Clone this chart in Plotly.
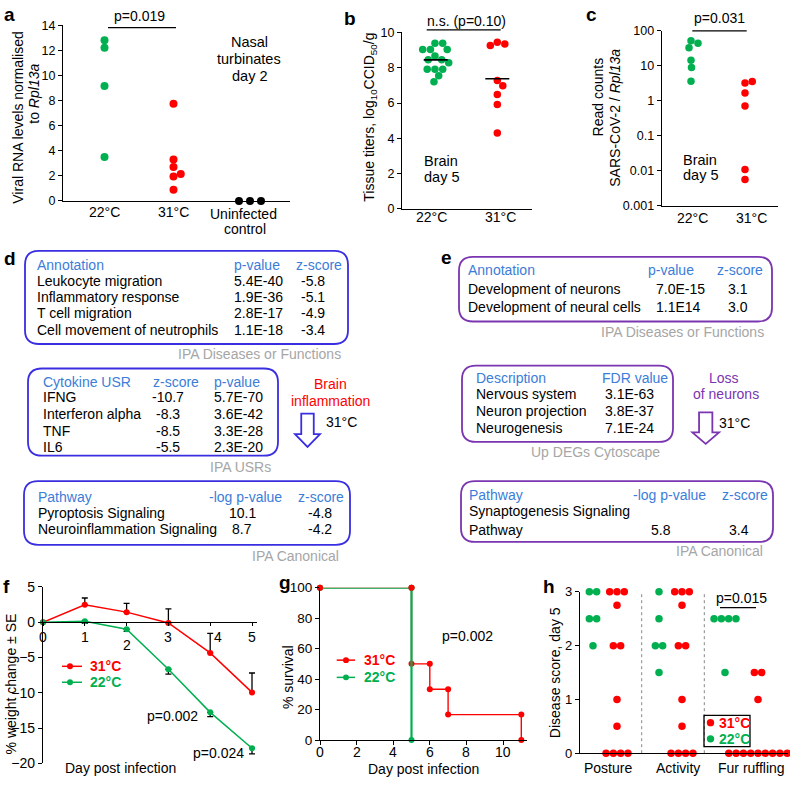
import math
from collections import Counter
import plotly.graph_objects as go

W, H = 790, 785
FONT = "Liberation Sans, Arial, sans-serif"
GREEN = "#00B050"
RED = "#FF0000"
BLACK = "#000000"
HEAD = "#3B7DD8"
DBOX = "#3A2FE0"
EBOX = "#7A35B0"
GREY = "#A6A6A6"

# ---------------- data ----------------
a_categories = ["22°C", "31°C", "Uninfected", "control"]
a_22 = [12.8, 12.2, 9.15, 3.5]
a_31 = [7.75, 3.3, 2.7, 1.95, 2.15, 0.9]
a_uninf = [0, 0, 0]

b_categories = ["22°C", "31°C"]
b_22 = [9.39, 9.39, 9.04, 9.04, 9.04, 8.67, 8.46, 8.46, 8.28, 7.91, 7.91, 7.91, 7.54, 7.20]
b_31 = [9.44, 9.35, 9.26, 7.28, 6.98, 6.48, 5.91, 4.30]

c_categories = ["22°C", "31°C"]
c_22 = [52, 44, 33, 14.4, 9.0, 3.6]
c_31 = [3.2, 3.56, 1.67, 0.71, 0.0107, 0.0056]
c_ticks = [0.001, 0.01, 0.1, 1, 10, 100]
c_ticktext = ["0.001", "0.01", "0.1", "1", "10", "100"]

f_days = [0, 1, 2, 3, 4, 5]
f_31 = [0, 2.46, 1.43, -0.1, -4.35, -9.95]
f_31_se = [None, 0.97, 1.25, 2.0, 2.78, 2.75]
f_22 = [0, 0.14, -1.0, -6.67, -12.78, -17.87]
f_22_se = [None, 0.3, 0.3, 0.7, 0.6, 0.8]

g_31_days = [0, 5, 5, 6, 6, 7, 7, 11, 11]
g_31_surv = [100, 100, 50, 50, 33.3, 33.3, 16.7, 16.7, 0]
g_22_days = [0, 5, 5]
g_22_surv = [100, 100, 0]
g_xticks = [0, 2, 4, 6, 8, 10]

h_categories = ["Posture", "Activity", "Fur ruffling"]
h_22 = [[3, 3, 2.5, 2.5, 2],
        [3, 2.5, 2, 2, 1.5],
        [2.5, 2.5, 2.5, 2.5, 1.5]]
h_31 = [[3, 3, 3, 2.75, 2, 2, 1, 0.5, 0, 0, 0, 0],
        [3, 3, 3, 2.75, 2, 2, 1, 0.5, 0, 0, 0, 0],
        [1.5, 1.5, 1, 0, 0, 0, 0, 0, 0, 0, 0, 0]]

d_tables = [
    dict(header=["Annotation", "p-value", "z-score"],
         rows=[["Leukocyte migration", "5.4E-40", "-5.8"],
               ["Inflammatory response", "1.9E-36", "-5.1"],
               ["T cell migration", "2.8E-17", "-4.9"],
               ["Cell movement of neutrophils", "1.1E-18", "-3.4"]],
         footer="IPA Diseases or Functions"),
    dict(header=["Cytokine USR", "z-score", "p-value"],
         rows=[["IFNG", "-10.7", "5.7E-70"],
               ["Interferon alpha", "-8.3", "3.6E-42"],
               ["TNF", "-8.5", "3.3E-28"],
               ["IL6", "-5.5", "2.3E-20"]],
         footer="IPA USRs"),
    dict(header=["Pathway", "-log p-value", "z-score"],
         rows=[["Pyroptosis Signaling", "10.1", "-4.8"],
               ["Neuroinflammation Signaling", "8.7", "-4.2"]],
         footer="IPA Canonical"),
]
e_tables = [
    dict(header=["Annotation", "p-value", "z-score"],
         rows=[["Development of neurons", "7.0E-15", "3.1"],
               ["Development of neural cells", "1.1E14", "3.0"]],
         footer="IPA Diseases or Functions"),
    dict(header=["Description", "FDR value"],
         rows=[["Nervous system", "3.1E-63"],
               ["Neuron projection", "3.8E-37"],
               ["Neurogenesis", "7.1E-24"]],
         footer="Up DEGs Cytoscape"),
    dict(header=["Pathway", "-log p-value", "z-score"],
         rows=[["Synaptogenesis Signaling", "", ""],
               ["Pathway", "5.8", "3.4"]],
         footer="IPA Canonical"),
]

# ---------------- layout helpers (pixel -> paper) ----------------
def X(px):
    return px / W


def Y(py):
    return 1 - py / H


def swarm(ypx, d, step=0.25, recenter=False):
    placed, out = [], []
    for y in ypx:
        k = 0
        while True:
            cands = [0.0] if k == 0 else [k * step, -k * step]
            found = None
            for c in cands:
                if all((c - px) ** 2 + (y - py) ** 2 >= d * d - 1e-9 for px, py in placed):
                    found = c
                    break
            if found is not None:
                break
            k += 1
        placed.append((found, y))
        out.append(found)
    if recenter:
        m = (max(out) + min(out)) / 2
        out = [o - m for o in out]
    return out


def grouped(vals, spacing):
    counts = Counter(vals)
    seen = {}
    out = []
    for v in vals:
        i = seen.get(v, 0)
        seen[v] = i + 1
        out.append((i - (counts[v] - 1) / 2) * spacing)
    return out


annotations = []
shapes = []


def T(x, y, text, size=14, color=BLACK, xa="center", ya="middle", angle=0, bold=False):
    if bold:
        text = "<b>" + text + "</b>"
    annotations.append(dict(x=X(x), y=Y(y), xref="paper", yref="paper", text=text,
                            showarrow=False, xanchor=xa, yanchor=ya, textangle=angle,
                            font=dict(size=size, color=color, family=FONT)))


def line(x0, y0, x1, y1, color=BLACK, width=1.3, dash="solid"):
    shapes.append(dict(type="line", xref="paper", yref="paper", x0=X(x0), y0=Y(y0),
                       x1=X(x1), y1=Y(y1), line=dict(color=color, width=width, dash=dash)))


def dot(cx, cy, r, color):
    shapes.append(dict(type="circle", xref="paper", yref="paper", x0=X(cx - r), x1=X(cx + r),
                       y0=Y(cy + r), y1=Y(cy - r), fillcolor=color, line=dict(width=0)))


def rrect(x0, y0, x1, y1, r, color, width=1.8):
    p = (f"M {X(x0 + r)},{Y(y0)} L {X(x1 - r)},{Y(y0)} Q {X(x1)},{Y(y0)} {X(x1)},{Y(y0 + r)} "
         f"L {X(x1)},{Y(y1 - r)} Q {X(x1)},{Y(y1)} {X(x1 - r)},{Y(y1)} "
         f"L {X(x0 + r)},{Y(y1)} Q {X(x0)},{Y(y1)} {X(x0)},{Y(y1 - r)} "
         f"L {X(x0)},{Y(y0 + r)} Q {X(x0)},{Y(y0)} {X(x0 + r)},{Y(y0)} Z")
    shapes.append(dict(type="path", xref="paper", yref="paper", path=p,
                       line=dict(color=color, width=width)))


def down_arrow(cx, top, base, tip, sw, hw, color):
    pts_ = [(cx - sw / 2, top), (cx + sw / 2, top), (cx + sw / 2, base), (cx + hw / 2, base),
            (cx, tip), (cx - hw / 2, base), (cx - sw / 2, base)]
    p = "M " + " L ".join(f"{X(x)},{Y(y)}" for x, y in pts_) + " Z"
    shapes.append(dict(type="path", xref="paper", yref="paper", path=p,
                       line=dict(color=color, width=1.8)))


def ax(domain, rng, **kw):
    d = dict(domain=domain, range=rng, showline=True, linecolor=BLACK, linewidth=1.2,
             ticks="outside", ticklen=4, tickwidth=1.2, tickcolor=BLACK, showgrid=False,
             zeroline=False, tickfont=dict(size=12.5, color=BLACK, family=FONT), fixedrange=True)
    d.update(kw)
    return d


fig = go.Figure()


def pts(xs, ys, color, size, xa, ya, mode="markers", **kw):
    fig.add_trace(go.Scatter(x=xs, y=ys, mode=mode, xaxis=xa, yaxis=ya, cliponaxis=False,
                             marker=dict(color=color, size=size, line=dict(width=0)),
                             hoverinfo="skip", **kw))


DOT = 7.6

# ---------------- panel a ----------------
A_TOP, A_BOT = 17.5, 197
a_scale = (A_BOT - A_TOP) / 14
a_centers = [104.5, 173.5, 250]
for vals, cx, col in [(a_22, a_centers[0], GREEN), (a_31, a_centers[1], RED)]:
    off = swarm([v * a_scale for v in vals], DOT)
    pts([cx + o for o in off], vals, col, 8, "x", "y")
off = grouped(a_uninf, 11)
pts([a_centers[2] + o for o in off], a_uninf, BLACK, 8, "x", "y")

# ---------------- panel b ----------------
B_TOP, B_BOT = 25, 205
b_scale = (B_BOT - B_TOP) / 10
b_centers = [435.7, 497.3]
for vals, cx, col, rc in [(b_22, b_centers[0], GREEN, True), (b_31, b_centers[1], RED, False)]:
    off = swarm([v * b_scale for v in vals], 7.6, recenter=rc)
    pts([cx + o for o in off], vals, col, 7.5, "x2", "y2")
    m = sum(vals) / len(vals)
    pts([cx - 12, cx + 12], [m, m], BLACK, 1, "x2", "y2", mode="lines",
        line=dict(color=BLACK, width=1.6))

# ---------------- panel c ----------------
C_TOP, C_BOT = 23.3, 201.7
c_scale = (C_BOT - C_TOP) / 5
c_centers = [691, 745]
for vals, cx, col in [(c_22, c_centers[0], GREEN), (c_31, c_centers[1], RED)]:
    off = swarm([math.log10(v) * c_scale for v in vals], 7.3)
    pts([cx + o for o in off], vals, col, 7.5, "x3", "y3")

# ---------------- panel f ----------------
F_X0, F_PX_PER_DAY = 43, 41.8
fig.add_trace(go.Scatter(x=f_days, y=f_31, mode="lines+markers", xaxis="x4", yaxis="y4",
                         cliponaxis=False, line=dict(color=RED, width=1.5),
                         marker=dict(color=RED, size=6),
                         error_y=dict(type="data", symmetric=False, array=f_31_se,
                                      arrayminus=[0 if s is not None else None for s in f_31_se],
                                      color=BLACK, thickness=1.3, width=3)))
fig.add_trace(go.Scatter(x=f_days, y=f_22, mode="lines+markers", xaxis="x4", yaxis="y4",
                         cliponaxis=False, line=dict(color=GREEN, width=1.5),
                         marker=dict(color=GREEN, size=6),
                         error_y=dict(type="data", symmetric=False, arrayminus=f_22_se,
                                      array=[0 if s is not None else None for s in f_22_se],
                                      color=BLACK, thickness=1.3, width=3)))

# ---------------- panel g ----------------
G_X0, G_PX_PER_DAY = 320, 18.3
fig.add_trace(go.Scatter(x=g_31_days, y=g_31_surv, mode="lines+markers", xaxis="x5", yaxis="y5",
                         cliponaxis=False, line=dict(color=RED, width=1.4),
                         marker=dict(color=RED, size=6)))
fig.add_trace(go.Scatter(x=g_22_days, y=g_22_surv, mode="lines+markers", xaxis="x5", yaxis="y5",
                         cliponaxis=False, line=dict(color=GREEN, width=2.2),
                         marker=dict(color=GREEN, size=6)))
top_pts = [(d, s) for d, s in zip(g_31_days, g_31_surv) if s == 100]
pts([d for d, s in top_pts], [s for d, s in top_pts], RED, 6, "x5", "y5")

# ---------------- panel h ----------------
h_green_centers = [593, 659, 725]
h_red_centers = [617, 682, 758]
for i in range(3):
    for vals, cx, col in [(h_22[i], h_green_centers[i], GREEN), (h_31[i], h_red_centers[i], RED)]:
        off = grouped(vals, 7.3)
        pts([cx + o for o in off], vals, col, 7.5, "x6", "y6")

for xd in [641.7, 704.3]:
    shapes.append(dict(type="line", xref="x6", yref="y6", x0=xd, x1=xd, y0=0, y1=3,
                       line=dict(color="#888888", width=1, dash="dot")))

# ---------------- axes ----------------
layout_axes = dict(
    xaxis=ax([X(63), X(290)], [63, 290], anchor="y", ticks="", showticklabels=False),
    yaxis=ax([Y(A_BOT), Y(A_TOP)], [0, 14], anchor="x", tickvals=list(range(0, 15, 2))),
    xaxis2=ax([X(402), X(532)], [402, 532], anchor="y2", ticks="", showticklabels=False),
    yaxis2=ax([Y(B_BOT), Y(B_TOP)], [0, 10], anchor="x2", tickvals=list(range(0, 11, 2))),
    xaxis3=ax([X(661.7), X(778)], [661.7, 778], anchor="y3", ticks="", showticklabels=False),
    yaxis3=ax([Y(C_BOT), Y(C_TOP)], [-3, 2], anchor="x3", type="log", tickvals=c_ticks,
              ticktext=c_ticktext),
    xaxis4=ax([X(43), X(257)], [0, (257 - F_X0) / F_PX_PER_DAY], anchor="free", position=Y(627),
              tickvals=f_days, showticklabels=False, ticklen=3),
    yaxis4=ax([Y(771), Y(591)], [-20, 5], anchor="x4", tickvals=[-20, -15, -10, -5, 0, 5],
              tickfont=dict(size=14, family=FONT, color=BLACK)),
    xaxis5=ax([X(320), X(527)], [0, (527 - G_X0) / G_PX_PER_DAY], anchor="y5",
              tickvals=g_xticks, showticklabels=False),
    yaxis5=ax([Y(747.3), Y(591.7)], [0, 100], anchor="x5", tickvals=[0, 20, 40, 60, 80, 100],
              tickfont=dict(size=13.5, family=FONT, color=BLACK)),
    xaxis6=ax([X(580), X(788)], [580, 788], anchor="y6", ticks="", showticklabels=False),
    yaxis6=ax([Y(760.7), Y(596)], [0, 3], anchor="x6", tickvals=[0, 1, 2, 3],
              tickfont=dict(size=13, family=FONT, color=BLACK)),
)

# ---------------- category / tick labels ----------------
for lab, x, y in zip(a_categories, [104.5, 173.5, 244, 245], [208.5, 208.5, 210.5, 226]):
    T(x, y, lab)
for lab, x in zip(b_categories, [431, 500]):
    T(x, 213, lab)
for lab, x in zip(c_categories, [692.5, 751]):
    T(x, 214, lab)
for lab, x in zip(h_categories, [608, 678, 751]):
    T(x, 776, lab)
for d in g_xticks:
    T(G_X0 + d * G_PX_PER_DAY, 759, str(d))
f_label_dx = [0, 0, 0, 0, 8, 0]
f_label_y = [642, 642, 650, 642, 642, 642]
for d, dx, yy in zip(f_days, f_label_dx, f_label_y):
    T(F_X0 + d * F_PX_PER_DAY + dx, yy, str(d))

# ---------------- text: panel letters ----------------
for letter, x, y in [("a", 2, 7), ("b", 342, 10.5), ("c", 584, 7), ("d", 2, 255.5),
                     ("e", 439, 254.5), ("f", 1, 590.5), ("g", 277, 586.5), ("h", 541, 590.5)]:
    T(x, y, letter, size=19, xa="left", bold=True)

# panel a texts
T(18, 112, "Viral RNA levels normalised", angle=-90)
T(34.5, 88, "to <i>Rpl13a</i>", angle=-90)
line(108, 20, 176, 20)
T(139, 8.5, "p=0.019")
for txt, yy in [("Nasal", 34.3), ("turbinates", 52), ("day 2", 69)]:
    T(249, yy, txt, size=14.5)

# panel b texts
T(370, 112, "Tissue titers, log<sub>10</sub>CCID<sub>50</sub>/g", angle=-90)
line(426.7, 22.3, 500.7, 22.3)
T(466, 13.3, "n.s. (p=0.10)")
T(441, 155.7, "Brain", size=14.5)
T(441, 172.7, "day 5", size=14.5)

# panel c texts
T(598.3, 91, "Read counts", angle=-90)
T(615, 112, "SARS-CoV-2 / <i>Rpl13a</i>", angle=-90)
line(692.3, 23.3, 746.7, 23.3)
T(719, 10, "p=0.031")
T(700, 155.5, "Brain", size=14.5)
T(700, 170.5, "day 5", size=14.5)

# ---------------- panel d / e boxes ----------------
TS = 14


def table(tab, box, hx, hy, vx, valign, rows_y, foot_xy, color):
    rrect(*box, 14, color)
    for t, x in zip(tab["header"], hx):
        T(x, hy, t, size=TS, color=HEAD, xa="left")
    for row, yy in zip(tab["rows"], rows_y):
        for t, x, al in zip(row, vx, valign):
            if t:
                T(x, yy, t, size=TS, xa=al)
    T(foot_xy[0], foot_xy[1], tab["footer"], size=TS, color=GREY, xa="right")


table(d_tables[0], (25, 248, 348, 343), [35, 232, 294], 262, [35, 232, 313],
      ["left", "left", "center"], [278.3, 295, 311.7, 328.3], (343, 353.3), DBOX)
table(d_tables[1], (28, 368, 278, 457), [41, 151, 212], 382, [41, 167.5, 212],
      ["left", "center", "left"], [397.3, 414.7, 431.7, 448.3], (273, 469), DBOX)
table(d_tables[2], (24, 483, 350, 548), [36, 207, 296], 499, [36, 242, 320],
      ["left", "center", "center"], [515.7, 532.3], (341, 559), DBOX)
T(330, 384, "Brain", size=TS, color=RED)
T(330, 401, "inflammation", size=TS, color=RED)
down_arrow(307.5, 414, 435, 448, 12.5, 25, DBOX)
T(324, 423, "31°C", size=TS, xa="left")

table(e_tables[0], (459, 254, 772, 320), [465.7, 645.7, 715], 267.3, [465.7, 654, 737.5],
      ["left", "left", "center"], [287.3, 305], (766, 330.7), EBOX)
table(e_tables[1], (462, 365, 673, 443), [474, 599.7], 377.3, [474, 603],
      ["left", "left"], [394.3, 411.7, 428.3], (661.7, 453), EBOX)
table(e_tables[2], (461, 483, 773, 545), [467.3, 631.3, 720], 496.7, [467.3, 660.7, 739],
      ["left", "center", "center"], [513.3, 533.3], (765.3, 554), EBOX)
T(724.3, 377.3, "Loss", size=TS, color=EBOX)
T(726, 394.3, "of neurons", size=TS, color=EBOX)
down_arrow(705.7, 412.7, 433.3, 445, 13.3, 26.7, EBOX)
T(717.3, 424, "31°C", size=TS, xa="left")

# ---------------- panel f texts ----------------
T(10.5, 690, "% weight change ± SE", angle=-90)
T(120, 776, "Day post infection")
T(172, 723, "p=0.002")
T(218, 760, "p=0.024")
for yy, col, lab in [(672, RED, "31°C"), (688.3, GREEN, "22°C")]:
    line(62, yy, 82, yy, color=col, width=1.5)
    dot(70, yy, 3, col)
    T(88, yy, lab, size=14, color=col, xa="left", bold=True)

# ---------------- panel g texts ----------------
T(288, 683, "% survival", angle=-90)
T(423, 777, "Day post infection")
T(467, 641, "p=0.002")
for yy, col, lab in [(665.7, RED, "31°C"), (683.3, GREEN, "22°C")]:
    line(336.7, yy, 355, yy, color=col, width=1.5)
    dot(346, yy, 3, col)
    T(361.7, yy, lab, size=14, color=col, xa="left", bold=True)

# ---------------- panel h texts ----------------
T(555, 679, "Disease score, day 5", angle=-90)
T(741.7, 602, "p=0.015")
line(720, 612, 756, 612)
shapes.append(dict(type="rect", xref="paper", yref="paper", x0=X(704), x1=X(750),
                   y0=Y(754), y1=Y(722), line=dict(color=BLACK, width=1.3)))
for yy, col, lab in [(729.5, RED, "31°C"), (746, GREEN, "22°C")]:
    dot(710.5, yy, 3.7, col)
    T(717, yy, lab, size=14, color=col, xa="left", bold=True)

fig.update_layout(
    autosize=True, margin=dict(l=0, r=0, t=0, b=0, pad=0),
    paper_bgcolor="white", plot_bgcolor="white", showlegend=False,
    font=dict(family=FONT, size=14, color=BLACK),
    annotations=annotations, shapes=shapes, **layout_axes,
)

fig.write_html("out.html", default_width="100vw", default_height="100vh",
               config={"displayModeBar": False},
               post_script="document.body.style.margin='0px';document.body.style.overflow='hidden';")
